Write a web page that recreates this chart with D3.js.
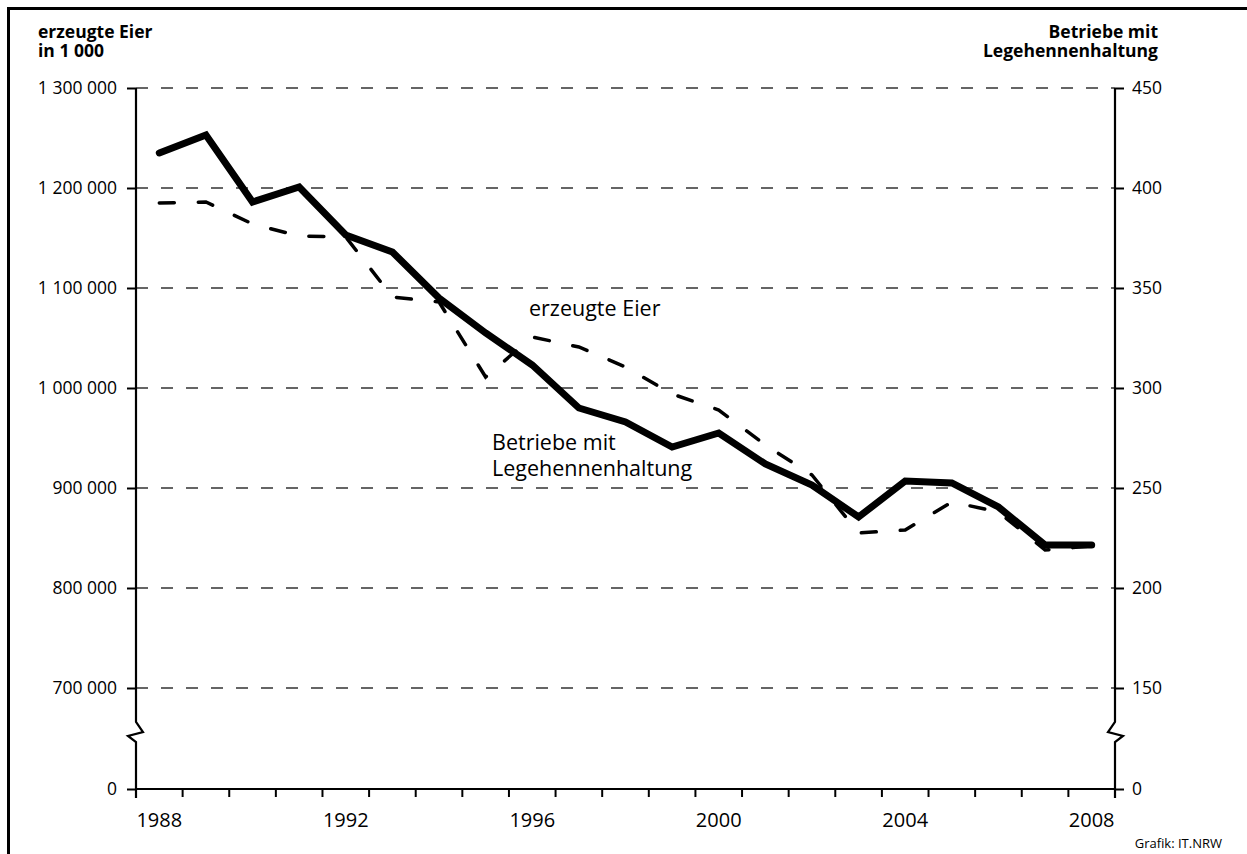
<!DOCTYPE html>
<html>
<head>
<meta charset="utf-8">
<script src="https://cdn.jsdelivr.net/npm/d3@7"></script>
<style>
  body { margin: 0; background: #fff; }
  svg { display: block; font-family: 'Open Sans', sans-serif; }
  .axis text { fill: #000; }
  .grid line { stroke: #333; stroke-width: 1.3; stroke-dasharray: 12, 13; }
</style>
</head>
<body>
<svg id="chart"></svg>
<script>
// years on the x axis (one band per year)
const years = [1988, 1989, 1990, 1991, 1992, 1993, 1994, 1995, 1996, 1997, 1998,
               1999, 2000, 2001, 2002, 2003, 2004, 2005, 2006, 2007, 2008];
// erzeugte Eier in 1 000 (left axis)
const eggs = [1185000, 1186000, 1164000, 1152000, 1151000, 1091000, 1086000, 1011000,
              1051000, 1041000, 1021000, 994000, 978000, 943000, 913000, 855000,
              858000, 886000, 876000, 838000, 842000];
// Betriebe mit Legehennenhaltung (right axis)
const farms = [417.5, 426.5, 393, 400.5, 376.5, 368, 345, 327.5, 311.5, 290, 283,
               270.5, 277.5, 262, 251.5, 235.5, 253.5, 252.5, 240.5, 221.5, 221.5];
const labelYears = [1988, 1992, 1996, 2000, 2004, 2008];
const leftTicks = [0, 700000, 800000, 900000, 1000000, 1100000, 1200000, 1300000];
const rightTicks = [0, 150, 200, 250, 300, 350, 400, 450];

class BrokenAxisChart {

  constructor(_config) {
    this.config = {
      parentElement: _config.parentElement,
      containerWidth: 1247,
      containerHeight: 854,
      left: 136, right: 1115, top: 88, bottom: 789, breakTop: 688
    }
    this.initVis();
  }

  initVis() {
    let vis = this;
    const c = vis.config;

    vis.svg = d3.select(c.parentElement)
        .attr('width', c.containerWidth)
        .attr('height', c.containerHeight);

    // frame (only top and left edge are inside the picture)
    vis.svg.append('path')
        .attr('d', `M8.5,${c.containerHeight} V8.5 H${c.containerWidth}`)
        .attr('fill', 'none')
        .attr('stroke', '#000')
        .attr('stroke-width', 3);

    // scales: axis is broken between 0 and the first real tick
    vis.xScale = d3.scaleBand()
        .domain(years)
        .range([c.left, c.right])
        .padding(0);
    vis.yLeft = d3.scaleLinear()
        .domain([0, 700000, 1300000])
        .range([c.bottom, c.breakTop, c.top]);
    vis.yRight = d3.scaleLinear()
        .domain([0, 150, 450])
        .range([c.bottom, c.breakTop, c.top]);

    vis.renderVis();
  }

  renderVis() {
    let vis = this;
    const c = vis.config;
    const fmt = d => d3.format(',')(d).replace(/,/g, ' ');

    // dashed gridlines
    vis.svg.append('g')
        .attr('class', 'grid')
      .selectAll('line')
        .data(leftTicks.filter(d => d > 0))
        .join('line')
        .attr('x1', c.left)
        .attr('x2', c.right)
        .attr('y1', d => vis.yLeft(d))
        .attr('y2', d => vis.yLeft(d));

    // left axis
    const leftG = vis.svg.append('g')
        .attr('class', 'axis')
        .attr('transform', `translate(${c.left},0)`)
        .call(d3.axisLeft(vis.yLeft).tickValues(leftTicks).tickFormat(fmt)
            .tickSize(9).tickPadding(10));
    leftG.select('.domain').remove();
    leftG.selectAll('line').attr('stroke', '#000').attr('stroke-width', 2);
    leftG.attr('font-size', null).attr('font-family', null);
    leftG.selectAll('text').style('font-size', '17.5px');

    // right axis
    const rightG = vis.svg.append('g')
        .attr('class', 'axis')
        .attr('transform', `translate(${c.right},0)`)
        .call(d3.axisRight(vis.yRight).tickValues(rightTicks)
            .tickSize(9).tickPadding(8));
    rightG.select('.domain').remove();
    rightG.selectAll('line').attr('stroke', '#000').attr('stroke-width', 2);
    rightG.attr('font-size', null).attr('font-family', null);
    rightG.selectAll('text').style('font-size', '17.5px');

    // vertical axis lines with break symbol
    const brk = 722;
    vis.svg.append('path')
        .attr('d', `M${c.left},${c.top} V${brk} L${c.left + 7},${brk + 10} L${c.left - 8},${brk + 14} L${c.left},${brk + 20} V${c.bottom + 9}`)
        .attr('fill', 'none').attr('stroke', '#000').attr('stroke-width', 2.2);
    vis.svg.append('path')
        .attr('d', `M${c.right},${c.top} V${brk} L${c.right - 7},${brk + 10} L${c.right + 8},${brk + 14} L${c.right},${brk + 20} V${c.bottom + 9}`)
        .attr('fill', 'none').attr('stroke', '#000').attr('stroke-width', 2.2);

    // x axis: labels at band centers, tick marks at band edges
    const xG = vis.svg.append('g')
        .attr('class', 'axis')
        .attr('transform', `translate(0,${c.bottom})`)
        .call(d3.axisBottom(vis.xScale).tickValues(labelYears).tickSize(0).tickPadding(24));
    xG.select('.domain').remove();
    xG.attr('font-size', null).attr('font-family', null);
    xG.selectAll('text').style('font-size', '20px');

    vis.svg.append('line')
        .attr('x1', c.left).attr('x2', c.right)
        .attr('y1', c.bottom).attr('y2', c.bottom)
        .attr('stroke', '#000').attr('stroke-width', 2.2);
    vis.svg.append('g')
      .selectAll('line')
        .data(years.map(d => vis.xScale(d)).concat([c.right]))
        .join('line')
        .attr('x1', d => d).attr('x2', d => d)
        .attr('y1', c.bottom).attr('y2', c.bottom + 8)
        .attr('stroke', '#000').attr('stroke-width', 2);

    const xPos = d => vis.xScale(d) + vis.xScale.bandwidth() / 2;

    // erzeugte Eier (dashed)
    const eggLine = d3.line()
        .x((d, i) => xPos(years[i]))
        .y(d => vis.yLeft(d));
    vis.svg.append('path')
        .datum(eggs)
        .attr('d', eggLine)
        .attr('fill', 'none')
        .attr('stroke', '#000')
        .attr('stroke-width', 3.5)
        .attr('stroke-dasharray', '15, 24')
        .attr('stroke-linecap', 'round');

    // Betriebe (thick solid)
    const farmLine = d3.line()
        .x((d, i) => xPos(years[i]))
        .y(d => vis.yRight(d));
    vis.svg.append('path')
        .datum(farms)
        .attr('d', farmLine)
        .attr('fill', 'none')
        .attr('stroke', '#000')
        .attr('stroke-width', 7)
        .attr('stroke-linejoin', 'miter')
        .attr('stroke-linecap', 'round');

    // axis titles, two lines each
    const title = (x, anchor, lines) => {
      const t = vis.svg.append('text')
          .attr('text-anchor', anchor)
          .style('font-size', '17.5px')
          .attr('font-weight', 'bold');
      lines.forEach((txt, i) => t.append('tspan').attr('x', x).attr('y', 38 + i * 19).text(txt));
    };
    title(38, 'start', ['erzeugte Eier', 'in 1 000']);
    title(1158, 'end', ['Betriebe mit', 'Legehennenhaltung']);

    // series labels
    vis.svg.append('text')
        .attr('x', 529).attr('y', 316)
        .style('font-size', '21.5px')
        .text('erzeugte Eier');
    const lab = vis.svg.append('text').style('font-size', '21.5px');
    lab.append('tspan').attr('x', 492).attr('y', 450).text('Betriebe mit');
    lab.append('tspan').attr('x', 492).attr('y', 476).text('Legehennenhaltung');

    vis.svg.append('text')
        .attr('x', 1222).attr('y', 848)
        .attr('text-anchor', 'end')
        .style('font-size', '13px')
        .text('Grafik: IT.NRW');
  }
}

new BrokenAxisChart({ parentElement: '#chart' });
</script>
</body>
</html>
